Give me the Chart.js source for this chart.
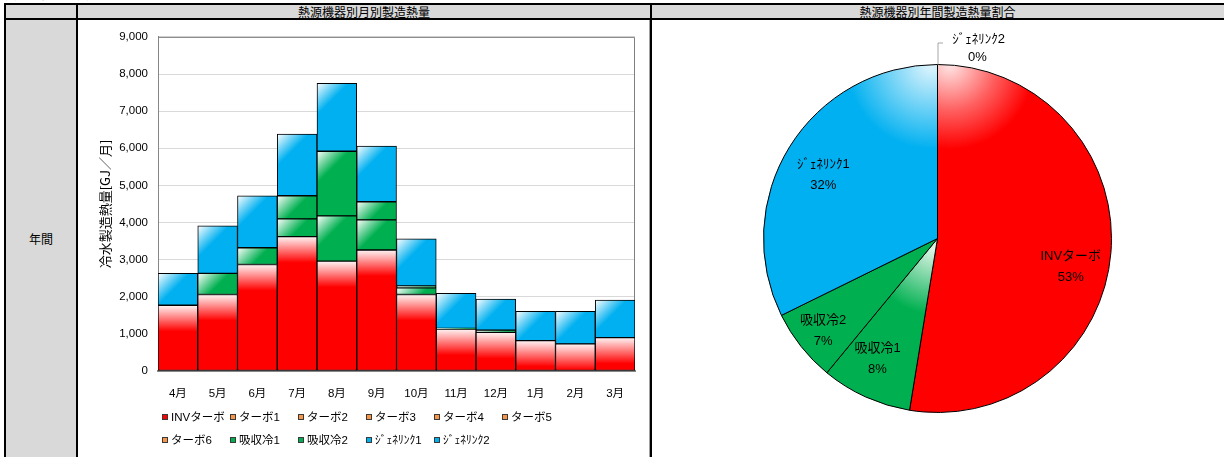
<!DOCTYPE html>
<html lang="ja">
<head>
<meta charset="utf-8">
<title>熱源機器製造熱量</title>
<script src="https://cdn.jsdelivr.net/npm/chart.js@4.4.1/dist/chart.umd.min.js"></script>
<style>
  html, body { margin: 0; padding: 0; background: #fff; }
  body { width: 1224px; height: 457px; position: relative; overflow: hidden;
         font-family: 'Noto Sans CJK JP', 'Liberation Sans', sans-serif; color: #000; }
  .line { position: absolute; background: #000; }
  .gray { position: absolute; background: #d9d9d9; }
  .txt { position: absolute; text-align: center; white-space: nowrap; font-size: 12px; }
  canvas { position: absolute; }
</style>
</head>
<body>
<!-- sheet caption above the table -->
<div class="txt" style="left:5px; top:-12px; text-align:left; line-height:12px;">熱源機器製造熱量実績</div>

<!-- table cells -->
<div class="gray" style="left:6px; top:5px; width:1218px; height:13px;"></div>
<div class="gray" style="left:6px; top:20px; width:70px; height:437px;"></div>
<div class="line" style="left:4px; top:3px; width:1220px; height:2px;"></div>
<div class="line" style="left:4px; top:18px; width:1220px; height:2px;"></div>
<div class="line" style="left:4px; top:3px; width:2px; height:454px;"></div>
<div class="line" style="left:76px; top:3px; width:2px; height:454px;"></div>
<div class="line" style="left:650px; top:3px; width:2px; height:454px;"></div>
<div class="line" style="left:649px; top:20px; width:1px; height:437px; background:#a0a0a0;"></div>

<div class="txt" style="left:78px; top:4px; width:572px; line-height:15px;">熱源機器別月別製造熱量</div>
<div class="txt" style="left:652px; top:4px; width:571px; line-height:15px;">熱源機器別年間製造熱量割合</div>
<div class="txt" style="left:6px; top:230px; width:70px; line-height:18px;">年間</div>

<canvas id="barChart" width="572" height="437" style="left:78px; top:20px;"></canvas>
<canvas id="pieChart" width="571" height="437" style="left:652px; top:20px;"></canvas>

<script>
// ---- monthly production heat [GJ/月] per heat source ----
const months   = ['4月', '5月', '6月', '7月', '8月', '9月', '10月', '11月', '12月', '1月', '2月', '3月'];
const invTurbo = [1770, 2060, 2870, 3620, 2960, 3260, 2060, 1130, 1040, 820, 730, 900];
const turbo1   = [0, 0, 0, 0, 0, 0, 0, 0, 0, 0, 0, 0];
const turbo2   = [0, 0, 0, 0, 0, 0, 0, 0, 0, 0, 0, 0];
const turbo3   = [0, 0, 0, 0, 0, 0, 0, 0, 0, 0, 0, 0];
const turbo4   = [0, 0, 0, 0, 0, 0, 0, 0, 0, 0, 0, 0];
const turbo5   = [0, 0, 0, 0, 0, 0, 0, 0, 0, 0, 0, 0];
const turbo6   = [0, 0, 0, 0, 0, 0, 0, 0, 0, 0, 0, 0];
const absorb1  = [0, 570, 450, 480, 1220, 810, 180, 0, 0, 0, 0, 0];
const absorb2  = [0, 0, 0, 620, 1740, 490, 50, 20, 60, 0, 0, 0];
const genelink1 = [860, 1280, 1400, 1660, 1830, 1500, 1270, 940, 840, 790, 880, 1010];
const genelink2 = [0, 0, 0, 0, 0, 0, 0, 0, 0, 0, 0, 0];

const seriesNames = ['INVターボ', 'ターボ1', 'ターボ2', 'ターボ3', 'ターボ4', 'ターボ5', 'ターボ6',
                     '吸収冷1', '吸収冷2', 'ｼﾞｪﾈﾘﾝｸ1', 'ｼﾞｪﾈﾘﾝｸ2'];
const seriesData  = [invTurbo, turbo1, turbo2, turbo3, turbo4, turbo5, turbo6,
                     absorb1, absorb2, genelink1, genelink2];

// y axis ticks
const yMin = 0, yMax = 9000, yStep = 1000;

// annual share (pie) slices
const pieNames = ['INVターボ', '吸収冷1', '吸収冷2', 'ｼﾞｪﾈﾘﾝｸ1', 'ｼﾞｪﾈﾘﾝｸ2'];
const pieSeries = [invTurbo, absorb1, absorb2, genelink1, genelink2];
const sum = a => a.reduce((s, v) => s + v, 0);
const pieValues = pieSeries.map(sum);

// ---- styling ----
const RED = '#FF0000', ORANGE = '#F79646', GREEN = '#00B050', BLUE = '#00B0F0';
const seriesColors = [RED, ORANGE, ORANGE, ORANGE, ORANGE, ORANGE, ORANGE, GREEN, GREEN, BLUE, BLUE];
const FONT = "'Liberation Sans', 'Noto Sans CJK JP', sans-serif";

Chart.defaults.font.family = FONT;
Chart.defaults.color = '#000';

// bar fill: red gets a soft white glow along its top edge,
// the others a diagonal highlight in the upper-left corner
function barFill(base) {
  return (c) => {
    const ch = c.chart, area = ch.chartArea;
    if (!area || c.type !== 'data' || !ch.scales.y || !ch.scales.x) return base;
    let top = 0;
    for (let d = 0; d <= c.datasetIndex; d++) top += ch.data.datasets[d].data[c.dataIndex] || 0;
    const yTop = ch.scales.y.getPixelForValue(top);
    const half = area.width / ch.data.labels.length / 2;
    const xLeft = ch.scales.x.getPixelForValue(c.dataIndex) - half;
    const g = ch.ctx;
    if (base === RED) {
      const gr = g.createLinearGradient(0, yTop, 0, yTop + 26);
      gr.addColorStop(0, 'rgb(255,245,245)');
      gr.addColorStop(0.35, 'rgb(255,160,160)');
      gr.addColorStop(1, RED);
      return gr;
    }
    const gr = g.createLinearGradient(xLeft, yTop, xLeft + 16, yTop + 16);
    gr.addColorStop(0, '#ffffff');
    gr.addColorStop(1, base);
    return gr;
  };
}

const barDatasets = seriesNames.map((name, i) => ({
  label: name,
  data: seriesData[i],
  legendColor: seriesColors[i],
  backgroundColor: barFill(seriesColors[i]),
  borderColor: '#000',
  borderWidth: 1,
  borderSkipped: false,
  categoryPercentage: 1,
  barPercentage: 1
}));

// legend laid out on a fixed column grid under the x axis
const gridLegend = {
  id: 'gridLegend',
  afterDraw(chart, args, o) {
    const ctx = chart.ctx;
    ctx.save();
    ctx.font = o.font;
    ctx.textBaseline = 'middle';
    ctx.textAlign = 'left';
    chart.data.datasets.forEach((ds, i) => {
      const col = i % o.perRow, row = Math.floor(i / o.perRow);
      const x = o.left + col * o.pitch, y = o.top + row * o.rowGap;
      ctx.fillStyle = ds.legendColor;
      ctx.fillRect(x, y - 3, 6, 6);
      ctx.strokeStyle = '#3a3a3a';
      ctx.lineWidth = 1;
      ctx.strokeRect(x + 0.5, y - 2.5, 5, 5);
      ctx.fillStyle = '#000';
      ctx.fillText(ds.label, x + 9, y + 0.5);
    });
    ctx.restore();
  }
};

// thin frame on the top and right of the plot area
const plotFrame = {
  id: 'plotFrame',
  beforeDatasetsDraw(chart) {
    const { ctx, chartArea: a } = chart;
    ctx.save();
    ctx.strokeStyle = '#808080';
    ctx.lineWidth = 1;
    ctx.beginPath();
    ctx.moveTo(a.left, a.top + 0.5);
    ctx.lineTo(a.right - 0.5, a.top + 0.5);
    ctx.lineTo(a.right - 0.5, a.bottom);
    ctx.stroke();
    ctx.restore();
  }
};

new Chart(document.getElementById('barChart'), {
  type: 'bar',
  data: { labels: months, datasets: barDatasets },
  plugins: [plotFrame, gridLegend],
  options: {
    responsive: false,
    devicePixelRatio: 1,
    animation: false,
    layout: { padding: { left: 14, right: 15, top: 16, bottom: 0 } },
    plugins: {
      legend: { display: false },
      tooltip: { enabled: false },
      gridLegend: { left: 84, top: 397, pitch: 68, rowGap: 23, perRow: 6,
                    font: "11.5px 'Liberation Sans', 'Noto Sans CJK JP', sans-serif" }
    },
    scales: {
      x: {
        stacked: true,
        grid: { display: false },
        border: { display: true, color: '#868686', width: 2 },
        ticks: { padding: 8, maxRotation: 0, autoSkip: false, font: { size: 11.5 } },
        afterFit(scale) { scale.height = 86; }
      },
      y: {
        stacked: true,
        min: yMin, max: yMax,
        grid: { color: '#D9D9D9', drawTicks: false },
        border: { display: true, color: '#868686', width: 1 },
        ticks: {
          stepSize: yStep, padding: 10, font: { size: 11.5 },
          callback: v => v.toLocaleString('en-US')
        },
        title: {
          display: true,
          text: '冷水製造熱量[GJ／月]',
          font: { size: 13, family: "'Noto Sans CJK JP', sans-serif" },
          padding: { top: 5, bottom: 0 }
        },
        afterFit(scale) { scale.width = 66; }
      }
    }
  }
});

// ---- pie ----
const pieColors = [RED, GREEN, GREEN, BLUE, BLUE];
// label nudges (px) from the slice bisector
const labelNudge = [[-2, 17], [-4, -3], [-8, 8], [1, 8], [0, 0]];

function pieFill(c) {
  const base = pieColors[c.dataIndex];
  const ch = c.chart, a = ch.chartArea;
  if (!a || c.type !== 'data') return base;
  const cx = (a.left + a.right) / 2, cy = (a.top + a.bottom) / 2;
  const r = Math.min(a.width, a.height) / 2;
  const g = ch.ctx;
  if (c.dataIndex === 0) {
    const gr = g.createRadialGradient(cx + 12, cy - r, 0, cx + 12, cy - r, 85);
    gr.addColorStop(0, 'rgb(255,232,232)');
    gr.addColorStop(0.55, 'rgb(255,95,95)');
    gr.addColorStop(1, RED);
    return gr;
  }
  if (c.dataIndex === 3) {
    const gr = g.createRadialGradient(cx - 6, cy - r, 0, cx - 6, cy - r, 85);
    gr.addColorStop(0, 'rgb(228,246,253)');
    gr.addColorStop(1, BLUE);
    return gr;
  }
  if (c.dataIndex === 1) {
    const gr = g.createRadialGradient(cx - 4, cy + 10, 0, cx - 4, cy + 10, 65);
    gr.addColorStop(0, 'rgb(225,245,232)');
    gr.addColorStop(1, GREEN);
    return gr;
  }
  return base;
}

const pieLabels = {
  id: 'pieLabels',
  afterDatasetsDraw(chart) {
    const meta = chart.getDatasetMeta(0);
    const ds = chart.data.datasets[0];
    const total = sum(ds.data);
    const ctx = chart.ctx;
    ctx.save();
    ctx.font = "13px 'Liberation Sans', 'Noto Sans CJK JP', sans-serif";
    ctx.fillStyle = '#000';
    ctx.textAlign = 'center';
    ctx.textBaseline = 'middle';
    meta.data.forEach((arc, i) => {
      const v = ds.data[i];
      const pct = Math.round(v / total * 100) + '%';
      const name = chart.data.labels[i];
      const mid = (arc.startAngle + arc.endAngle) / 2;
      if (v === 0) {
        // empty slice: label outside with a leader line
        const px = arc.x + Math.cos(mid) * arc.outerRadius;
        const py = arc.y + Math.sin(mid) * arc.outerRadius;
        ctx.strokeStyle = '#a6a6a6';
        ctx.lineWidth = 1;
        ctx.beginPath();
        ctx.moveTo(px + 0.5, py);
        ctx.lineTo(px + 0.5, py - 21.5);
        ctx.lineTo(px + 5.5, py - 21.5);
        ctx.stroke();
        ctx.fillText(name, px + 41, py - 25);
        ctx.fillText(pct, px + 40, py - 7);
        return;
      }
      const r = arc.outerRadius * 0.78;
      const x = arc.x + Math.cos(mid) * r + labelNudge[i][0];
      const y = arc.y + Math.sin(mid) * r + labelNudge[i][1];
      ctx.fillText(name, x, y - 10.5);
      ctx.fillText(pct, x, y + 10.5);
    });
    ctx.restore();
  }
};

new Chart(document.getElementById('pieChart'), {
  type: 'pie',
  data: {
    labels: pieNames,
    datasets: [{
      data: pieValues,
      backgroundColor: pieFill,
      borderColor: '#000',
      borderWidth: 1
    }]
  },
  plugins: [pieLabels],
  options: {
    responsive: false,
    devicePixelRatio: 1,
    animation: false,
    layout: { padding: { top: 44, bottom: 44, left: 0, right: 0 } },
    plugins: { legend: { display: false }, tooltip: { enabled: false } }
  }
});
</script>
</body>
</html>
